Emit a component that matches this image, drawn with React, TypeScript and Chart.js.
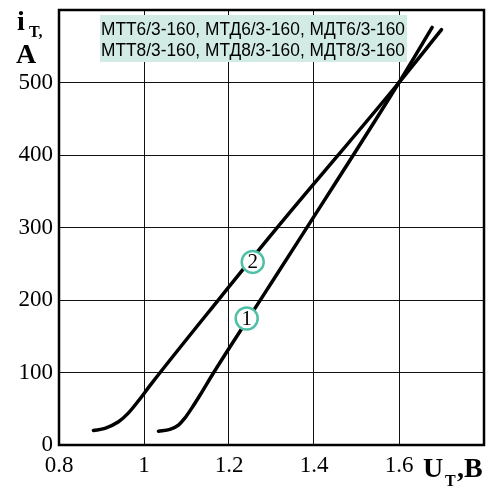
import React, { useEffect, useRef } from "react";
import { Chart, registerables } from "chart.js";

Chart.register(...registerables);

// Curve 1 (steeper) : U (V), i (A)
const curve1U = [1.034, 1.061, 1.081, 1.096, 1.112, 1.132, 1.163, 1.277, 1.367, 1.6, 1.678];
const curve1I = [19, 21.5, 27.5, 37, 50.5, 69, 99, 203, 285, 500, 576];
// Curve 2
const curve2U = [0.881, 0.908, 0.94, 0.963, 0.987, 1.018, 1.179, 1.308, 1.6, 1.7];
const curve2I = [20, 23, 32, 44, 61, 85, 203, 296, 500, 573];

const markerLabels = ["1", "2"];
const markerU = [1.2416, 1.2558];
const markerI = [174.5, 252.5];

const xTicks = [0.8, 1.0, 1.2, 1.4, 1.6, 1.8];
const xTickLabels = ["0.8", "1", "1.2", "1.4", "1.6", ""];
const yTicks = [0, 100, 200, 300, 400, 500, 600];
const yTickLabels = ["0", "100", "200", "300", "400", "500", ""];

const legendLines = [
  "МТТ6/3-160, МТД6/3-160, МДТ6/3-160",
  "МТТ8/3-160, МТД8/3-160, МДТ8/3-160",
];

const TEAL = "#4fc0a7";

const decorPlugin = {
  id: "decor",
  afterDatasetsDraw(chart: any) {
    const ctx = chart.ctx;
    const a = chart.chartArea;
    ctx.save();
    // frame
    ctx.strokeStyle = "#000";
    ctx.lineWidth = 2.5;
    ctx.strokeRect(a.left, a.top, a.right - a.left, a.bottom - a.top);

    // legend box
    ctx.fillStyle = "#d2ebe5";
    ctx.fillRect(100, 15, 307, 47);
    ctx.fillStyle = "#000";
    ctx.font = "18px 'Liberation Sans', Arial, sans-serif";
    ctx.textAlign = "left";
    ctx.textBaseline = "alphabetic";
    ctx.fillText(legendLines[0], 101, 35, 304);
    ctx.fillText(legendLines[1], 101, 56, 304);

    // marker numbers
    const meta = chart.getDatasetMeta(2);
    ctx.font = "21px 'Liberation Serif', 'Times New Roman', serif";
    ctx.textAlign = "center";
    ctx.textBaseline = "middle";
    meta.data.forEach((pt: any, i: number) => {
      ctx.fillText(markerLabels[i], pt.x, pt.y + 1);
    });

    // axis titles
    ctx.textAlign = "left";
    ctx.textBaseline = "alphabetic";
    ctx.font = "bold 28px 'Liberation Serif', 'Times New Roman', serif";
    ctx.fillText("i", 17, 30);
    ctx.fillText("A", 16, 63);
    ctx.fillText("U", 423, 477);
    ctx.fillText(",B", 457, 477);
    ctx.font = "bold 16px 'Liberation Serif', 'Times New Roman', serif";
    ctx.fillText("T,", 29, 37);
    ctx.fillText("T", 445, 486);
    ctx.restore();
  },
};

export default function App() {
  const ref = useRef<HTMLCanvasElement>(null);
  useEffect(() => {
    document.body.style.margin = "0";
    const c1 = curve1U.map((u, i) => ({ x: u, y: curve1I[i] }));
    const c2 = curve2U.map((u, i) => ({ x: u, y: curve2I[i] }));
    const mk = markerU.map((u, i) => ({ x: u, y: markerI[i] }));
    const chart = new Chart(ref.current!, {
      type: "scatter",
      data: {
        datasets: [
          { data: c1, order: 2, showLine: true, borderColor: "#000", borderWidth: 3.5, pointRadius: 0, cubicInterpolationMode: "monotone", borderCapStyle: "round" },
          { data: c2, order: 2, showLine: true, borderColor: "#000", borderWidth: 3.5, pointRadius: 0, cubicInterpolationMode: "monotone", borderCapStyle: "round" },
          { data: mk, order: 0, showLine: false, pointRadius: 11, pointBackgroundColor: "#fff", pointBorderColor: TEAL, pointBorderWidth: 2.5 },
        ],
      } as any,
      options: {
        responsive: false,
        animation: false,
        layout: { autoPadding: false, padding: { top: 10, right: 17, left: 0, bottom: 0 } },
        plugins: { legend: { display: false }, tooltip: { enabled: false } },
        scales: {
          x: {
            type: "linear",
            min: 0.8,
            max: 1.8,
            afterBuildTicks: (s: any) => {
              s.ticks = xTicks.map((v) => ({ value: v }));
            },
            afterFit: (s: any) => {
              s.height = 46;
              s.paddingLeft = 0;
              s.paddingRight = 0;
            },
            grid: { color: "#111", lineWidth: 1, drawTicks: false },
            border: { display: false },
            ticks: {
              padding: 7,
              color: "#000",
              font: { family: "'Liberation Serif', 'Times New Roman', serif", size: 23 },
              callback: (v: any) => {
                const i = xTicks.findIndex((t) => Math.abs(t - Number(v)) < 1e-6);
                return i >= 0 ? xTickLabels[i] : "";
              },
            },
          },
          y: {
            type: "linear",
            min: 0,
            max: 600,
            afterBuildTicks: (s: any) => {
              s.ticks = yTicks.map((v) => ({ value: v }));
            },
            afterFit: (s: any) => {
              s.width = 59;
              s.paddingTop = 0;
              s.paddingBottom = 0;
            },
            grid: { color: "#111", lineWidth: 1, drawTicks: false },
            border: { display: false },
            ticks: {
              padding: 6,
              color: "#000",
              font: { family: "'Liberation Serif', 'Times New Roman', serif", size: 23 },
              callback: (v: any) => {
                const i = yTicks.indexOf(Number(v));
                return i >= 0 ? yTickLabels[i] : "";
              },
            },
          },
        },
      },
      plugins: [decorPlugin],
    } as any);
    return () => chart.destroy();
  }, []);
  return (
    <div style={{ position: "absolute", left: 0, top: 0, width: 501, height: 491, background: "#fff" }}>
      <canvas ref={ref} width={501} height={491} style={{ width: 501, height: 491 }} />
    </div>
  );
}
